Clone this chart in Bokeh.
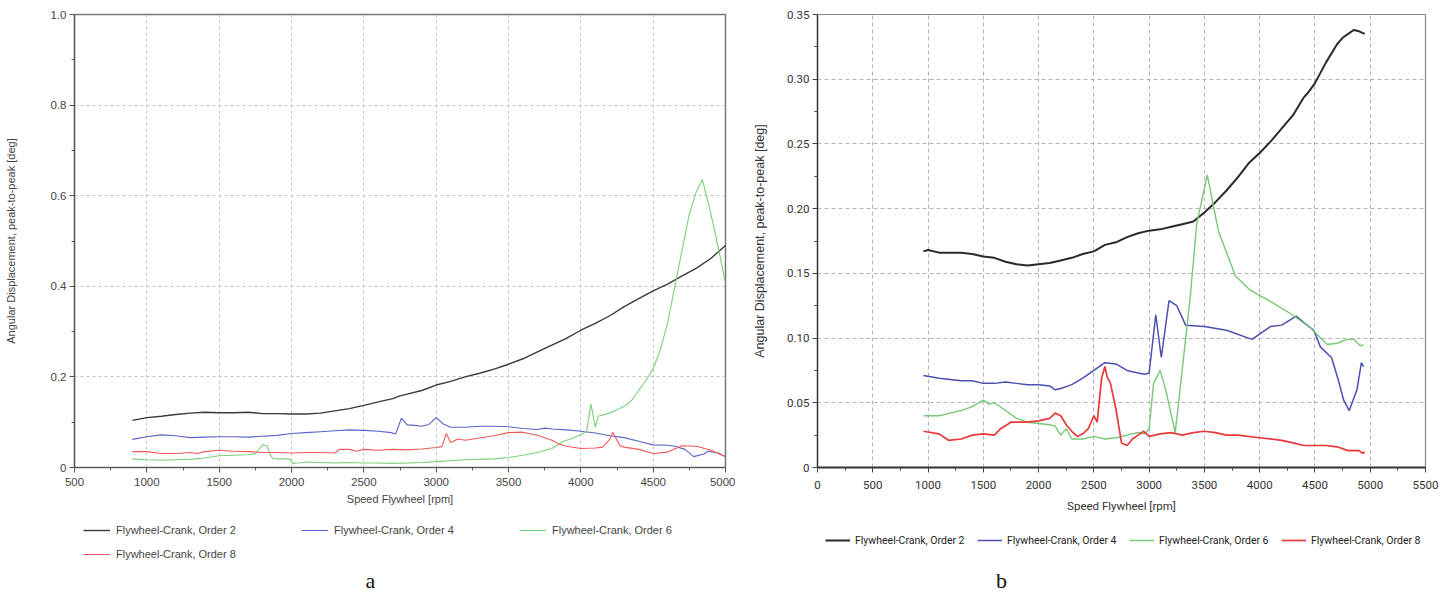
from bokeh.plotting import figure
from bokeh.layouts import row, column
from bokeh.models import Range1d, FixedTicker, CustomJSTickFormatter, Legend, LegendItem, Label
from bokeh.embed import file_html
from bokeh.resources import INLINE

# ---------------- data: panel a ----------------
series_names = ["Flywheel-Crank, Order 2", "Flywheel-Crank, Order 4",
                "Flywheel-Crank, Order 6", "Flywheel-Crank, Order 8"]
panel_tags = ["a", "b"]

a_o2_x = [900, 1000, 1100, 1200, 1300, 1400, 1500, 1600, 1700, 1800, 1900, 2000, 2100, 2200, 2300, 2400,
          2500, 2600, 2700, 2750, 2800, 2900, 3000, 3100, 3200, 3300, 3400, 3500, 3600, 3700, 3800, 3900,
          4000, 4100, 4200, 4300, 4400, 4500, 4600, 4700, 4800, 4900, 5000]
a_o2_y = [0.104, 0.110, 0.113, 0.117, 0.120, 0.122, 0.121, 0.121, 0.122, 0.119, 0.119, 0.118, 0.118, 0.120,
          0.125, 0.130, 0.137, 0.145, 0.152, 0.158, 0.162, 0.170, 0.182, 0.190, 0.200, 0.208, 0.217, 0.228,
          0.240, 0.255, 0.270, 0.285, 0.303, 0.318, 0.335, 0.355, 0.373, 0.390, 0.405, 0.423, 0.440, 0.462, 0.490]

a_o4_x = [900, 1000, 1100, 1200, 1300, 1400, 1500, 1600, 1700, 1800, 1900, 2000, 2100, 2200, 2300, 2400,
          2500, 2600, 2690, 2720, 2760, 2800, 2850, 2900, 2950, 3000, 3050, 3100, 3200, 3300, 3400, 3500,
          3600, 3700, 3750, 3800, 3900, 4000, 4100, 4200, 4300, 4400, 4500, 4600, 4650, 4720, 4780, 4850,
          4880, 4950, 5000]
a_o4_y = [0.062, 0.068, 0.072, 0.070, 0.066, 0.067, 0.068, 0.068, 0.067, 0.069, 0.071, 0.075, 0.077, 0.079,
          0.081, 0.083, 0.082, 0.080, 0.077, 0.074, 0.109, 0.094, 0.093, 0.091, 0.095, 0.110, 0.096, 0.089,
          0.089, 0.091, 0.091, 0.090, 0.086, 0.084, 0.087, 0.085, 0.083, 0.080, 0.076, 0.070, 0.066, 0.058,
          0.050, 0.049, 0.047, 0.040, 0.024, 0.030, 0.036, 0.032, 0.024]

a_o6_x = [900, 1000, 1100, 1200, 1300, 1400, 1500, 1600, 1700, 1750, 1780, 1800, 1830, 1850, 1870, 1900,
          1950, 1990, 2010, 2050, 2100, 2200, 2300, 2400, 2500, 2600, 2700, 2800, 2900, 3000, 3100, 3200,
          3300, 3400, 3500, 3600, 3700, 3800, 3880, 3950, 4000, 4040, 4070, 4100, 4120, 4200, 4300, 4350,
          4400, 4450, 4500, 4550, 4600, 4650, 4700, 4750, 4800, 4840, 4880, 4920, 4960, 5000]
a_o6_y = [0.019, 0.017, 0.016, 0.017, 0.018, 0.021, 0.026, 0.027, 0.028, 0.030, 0.042, 0.050, 0.048, 0.030,
          0.020, 0.019, 0.019, 0.018, 0.009, 0.010, 0.012, 0.011, 0.010, 0.011, 0.010, 0.010, 0.009, 0.010,
          0.011, 0.013, 0.015, 0.017, 0.018, 0.019, 0.022, 0.027, 0.033, 0.042, 0.058, 0.065, 0.073, 0.080,
          0.140, 0.089, 0.113, 0.120, 0.135, 0.148, 0.170, 0.192, 0.218, 0.260, 0.320, 0.400, 0.480, 0.560,
          0.610, 0.636, 0.585, 0.530, 0.470, 0.407]

a_o8_x = [900, 1000, 1100, 1200, 1300, 1350, 1400, 1500, 1600, 1700, 1800, 1900, 2000, 2100, 2200, 2300,
          2330, 2400, 2450, 2500, 2600, 2700, 2800, 2900, 3000, 3040, 3070, 3100, 3150, 3200, 3300, 3400,
          3500, 3600, 3700, 3800, 3850, 3900, 4000, 4100, 4150, 4200, 4220, 4250, 4270, 4300, 4400, 4500,
          4600, 4700, 4800, 4900, 5000]
a_o8_y = [0.035, 0.035, 0.031, 0.031, 0.033, 0.031, 0.035, 0.038, 0.036, 0.035, 0.033, 0.033, 0.032, 0.033,
          0.033, 0.032, 0.040, 0.040, 0.036, 0.040, 0.038, 0.040, 0.039, 0.041, 0.044, 0.046, 0.075, 0.055,
          0.063, 0.060, 0.065, 0.070, 0.077, 0.078, 0.071, 0.060, 0.052, 0.047, 0.042, 0.043, 0.045, 0.062,
          0.078, 0.060, 0.048, 0.045, 0.040, 0.031, 0.034, 0.048, 0.047, 0.038, 0.024]

a_xticks = [500, 1000, 1500, 2000, 2500, 3000, 3500, 4000, 4500, 5000]
a_xminor = [750, 1250, 1750, 2250, 2750, 3250, 3750, 4250, 4750]
a_yticks = [0, 0.2, 0.4, 0.6, 0.8, 1.0]
a_yminor = [0.1, 0.3, 0.5, 0.7, 0.9]

# ---------------- data: panel b ----------------
b_o2_x = [958, 1000, 1100, 1200, 1300, 1400, 1500, 1600, 1700, 1800, 1900, 2000, 2100, 2200, 2300, 2400,
          2500, 2600, 2700, 2800, 2900, 3000, 3100, 3200, 3300, 3400, 3500, 3600, 3700, 3800, 3900, 4000,
          4100, 4200, 4300, 4400, 4450, 4500, 4600, 4700, 4750, 4800, 4850, 4900, 4950]
b_o2_y = [0.167, 0.168, 0.166, 0.166, 0.166, 0.165, 0.163, 0.162, 0.159, 0.157, 0.156, 0.157, 0.158, 0.160,
          0.162, 0.165, 0.167, 0.172, 0.174, 0.178, 0.181, 0.183, 0.184, 0.186, 0.188, 0.190, 0.197, 0.205,
          0.214, 0.224, 0.235, 0.243, 0.252, 0.262, 0.272, 0.286, 0.291, 0.297, 0.313, 0.327, 0.332, 0.335,
          0.338, 0.337, 0.335]

b_o4_x = [958, 1100, 1200, 1300, 1400, 1500, 1600, 1700, 1800, 1900, 2000, 2100, 2150, 2200, 2300, 2400,
          2500, 2600, 2700, 2800, 2900, 2960, 3000, 3060, 3110, 3180, 3250, 3330, 3500, 3700, 3930, 4100,
          4200, 4330, 4400, 4490, 4550, 4650, 4710, 4760, 4810, 4880, 4920, 4940]
b_o4_y = [0.071, 0.069, 0.068, 0.067, 0.067, 0.065, 0.065, 0.066, 0.065, 0.064, 0.064, 0.063, 0.060, 0.061,
          0.064, 0.069, 0.075, 0.081, 0.080, 0.075, 0.073, 0.072, 0.073, 0.118, 0.085, 0.129, 0.125, 0.110,
          0.109, 0.106, 0.099, 0.109, 0.110, 0.117, 0.112, 0.106, 0.093, 0.085, 0.068, 0.052, 0.044, 0.060,
          0.081, 0.078]

b_o6_x = [958, 1100, 1200, 1300, 1400, 1500, 1550, 1600, 1700, 1800, 1900, 2000, 2100, 2150, 2200, 2250,
          2300, 2400, 2500, 2600, 2700, 2800, 2900, 2960, 3000, 3040, 3100, 3150, 3236, 3300, 3372, 3430,
          3526, 3626, 3780, 3915, 4123, 4277, 4458, 4611, 4700, 4792, 4850, 4910, 4940]
b_o6_y = [0.040, 0.040, 0.042, 0.044, 0.047, 0.052, 0.049, 0.050, 0.044, 0.038, 0.035, 0.034, 0.033, 0.032,
          0.025, 0.030, 0.022, 0.022, 0.024, 0.022, 0.023, 0.025, 0.027, 0.026, 0.030, 0.065, 0.075, 0.060,
          0.027, 0.076, 0.132, 0.188, 0.226, 0.183, 0.148, 0.137, 0.127, 0.119, 0.108, 0.095, 0.096, 0.099,
          0.099, 0.094, 0.095]

b_o8_x = [958, 1100, 1185, 1300, 1400, 1500, 1600, 1656, 1750, 1900, 2000, 2100, 2150, 2200, 2250, 2300,
          2350, 2400, 2450, 2500, 2530, 2570, 2600, 2620, 2650, 2700, 2750, 2800, 2850, 2900, 2950, 3000,
          3100, 3200, 3300, 3400, 3500, 3600, 3700, 3800, 4000, 4200, 4300, 4400, 4600, 4700, 4800, 4900,
          4930, 4950]
b_o8_y = [0.028, 0.026, 0.021, 0.022, 0.025, 0.026, 0.025, 0.030, 0.035, 0.035, 0.036, 0.038, 0.042, 0.040,
          0.033, 0.028, 0.024, 0.026, 0.030, 0.040, 0.035, 0.069, 0.078, 0.070, 0.065, 0.045, 0.019, 0.017,
          0.022, 0.025, 0.028, 0.024, 0.026, 0.027, 0.025, 0.027, 0.028, 0.027, 0.025, 0.025, 0.023, 0.021,
          0.019, 0.017, 0.017, 0.016, 0.013, 0.013, 0.011, 0.012]

b_xticks = [0, 500, 1000, 1500, 2000, 2500, 3000, 3500, 4000, 4500, 5000, 5500]
b_xminor = [250, 750, 1250, 1750, 2250, 2750, 3250, 3750, 4250, 4750, 5250]
b_yticks = [0, 0.05, 0.10, 0.15, 0.20, 0.25, 0.30, 0.35]
b_yminor = [0.025, 0.075, 0.125, 0.175, 0.225, 0.275, 0.325]

y_title = "Angular Displacement, peak-to-peak [deg]"
x_title = "Speed Flywheel [rpm]"

SANS = "Liberation Sans"
NARROW = "Roboto"
a_colors = ["#3a3a3a", "#5a64c8", "#7ccf7c", "#ef5a5a"]
a_widths = [1.4, 1.1, 1.1, 1.1]
b_colors = ["#2a2a2a", "#4b4fb0", "#78c878", "#e8393a"]
b_widths = [2.0, 1.5, 1.4, 1.7]

TOP_H = 518

# ---------------- panel a ----------------
pa = figure(width=735, height=TOP_H, output_backend="svg", toolbar_location=None,
            x_range=Range1d(500, 5000), y_range=Range1d(0, 1.0),
            min_border_left=74, min_border_right=10, min_border_top=14, min_border_bottom=51)
pa.background_fill_color = "white"
pa.border_fill_color = "white"
pa.outline_line_color = "#777777"
pa.outline_line_width = 1.5

a_data = [(a_o2_x, a_o2_y), (a_o4_x, a_o4_y), (a_o6_x, a_o6_y), (a_o8_x, a_o8_y)]
for (xs, ys), c, w in zip(a_data, a_colors, a_widths):
    pa.line(xs, ys, line_color=c, line_width=w)

pa.xaxis.ticker = FixedTicker(ticks=a_xticks, minor_ticks=a_xminor)
pa.yaxis.ticker = FixedTicker(ticks=a_yticks, minor_ticks=a_yminor)
pa.yaxis.formatter = CustomJSTickFormatter(code="return tick == 0 ? '0' : tick.toFixed(1);")
pa.xaxis.formatter = CustomJSTickFormatter(code="return tick.toFixed(0);")
for ax in (pa.xaxis[0], pa.yaxis[0]):
    ax.axis_line_color = "#555555"
    ax.axis_line_width = 1.2
    ax.major_tick_line_color = "#555555"
    ax.minor_tick_line_color = "#555555"
    ax.major_tick_out = 5
    ax.major_tick_in = 0
    ax.minor_tick_out = 3
    ax.minor_tick_in = 0
    ax.major_label_text_font = SANS
    ax.major_label_text_font_size = "11.5px"
    ax.major_label_text_color = "#444444"
    ax.axis_label_text_font = SANS
    ax.axis_label_text_font_size = "11px"
    ax.axis_label_text_font_style = "normal"
    ax.axis_label_text_color = "#444444"
pa.xaxis.axis_label = x_title
pa.yaxis.axis_label = y_title
pa.xaxis.major_label_standoff = 5
pa.xaxis.axis_label_standoff = 4
pa.yaxis.major_label_standoff = 3
pa.yaxis.axis_label_standoff = 31

pa.xgrid.ticker = FixedTicker(ticks=a_xticks)
pa.ygrid.ticker = FixedTicker(ticks=a_yticks)
for g in (pa.xgrid[0], pa.ygrid[0]):
    g.grid_line_color = "#c4c4c4"
    g.grid_line_dash = "3 3"
    g.grid_line_width = 1

# ---------------- panel b ----------------
pb = figure(width=711, height=TOP_H, output_backend="svg", toolbar_location=None,
            x_range=Range1d(0, 5500), y_range=Range1d(0, 0.35),
            min_border_left=82, min_border_right=21, min_border_top=14, min_border_bottom=51)
pb.background_fill_color = "white"
pb.border_fill_color = "white"
pb.outline_line_color = "#888888"
pb.outline_line_width = 1.2

b_data = [(b_o2_x, b_o2_y), (b_o4_x, b_o4_y), (b_o6_x, b_o6_y), (b_o8_x, b_o8_y)]
for (xs, ys), c, w in zip(b_data, b_colors, b_widths):
    pb.line(xs, ys, line_color=c, line_width=w)

pb.xaxis.ticker = FixedTicker(ticks=b_xticks, minor_ticks=b_xminor)
pb.yaxis.ticker = FixedTicker(ticks=b_yticks, minor_ticks=b_yminor)
pb.yaxis.formatter = CustomJSTickFormatter(code="return tick == 0 ? '0' : tick.toFixed(2);")
pb.xaxis.formatter = CustomJSTickFormatter(code="return tick.toFixed(0);")
for ax in (pb.xaxis[0], pb.yaxis[0]):
    ax.axis_line_color = "#333333"
    ax.major_tick_line_color = "#444444"
    ax.minor_tick_line_color = "#444444"
    ax.major_tick_out = 5
    ax.major_tick_in = 0
    ax.minor_tick_out = 3
    ax.minor_tick_in = 0
    ax.major_label_text_font = NARROW
    ax.major_label_text_font_size = "11.5px"
    ax.major_label_text_color = "#333333"
    ax.axis_label_text_font_style = "normal"
    ax.axis_label_text_color = "#333333"
pb.xaxis.axis_line_width = 2.2
pb.yaxis.axis_line_width = 1.4
pb.xaxis.axis_label = x_title
pb.yaxis.axis_label = y_title
pb.xaxis.axis_label_text_font = NARROW
pb.xaxis.axis_label_text_font_size = "11.5px"
pb.yaxis.axis_label_text_font = SANS
pb.yaxis.axis_label_text_font_size = "12.5px"
pb.xaxis.major_label_standoff = 8
pb.xaxis.axis_label_standoff = 7
pb.yaxis.major_label_standoff = 3
pb.yaxis.axis_label_standoff = 17

pb.xgrid.ticker = FixedTicker(ticks=b_xticks)
pb.ygrid.ticker = FixedTicker(ticks=b_yticks)
for g in (pb.xgrid[0], pb.ygrid[0]):
    g.grid_line_color = "#b4b4b4"
    g.grid_line_dash = "4 3"
    g.grid_line_width = 1

# ---------------- bottom strip: legends and panel tags ----------------
BOT_H = 592 - TOP_H
bot = figure(width=1446, height=BOT_H, output_backend="svg", toolbar_location=None,
             x_range=Range1d(0, 1446), y_range=Range1d(0, BOT_H),
             x_axis_type=None, y_axis_type=None,
             min_border_left=0, min_border_right=0, min_border_top=0, min_border_bottom=0)
bot.outline_line_color = None
bot.xgrid.visible = False
bot.ygrid.visible = False
bot.background_fill_color = "white"
bot.border_fill_color = "white"

nan = float("nan")
a_leg_r = [bot.line(x=[nan], y=[nan], line_color=c, line_width=w) for c, w in zip(a_colors, a_widths)]
b_leg_r = [bot.line(x=[nan], y=[nan], line_color=c, line_width=w) for c, w in zip(b_colors, b_widths)]

leg_a = Legend(items=[LegendItem(label=n, renderers=[r]) for n, r in zip(series_names, a_leg_r)],
               orientation="horizontal", ncols=3, location=(83, BOT_H - 48),
               glyph_width=27, glyph_height=24, label_height=24, label_width=185, label_standoff=6,
               spacing=0, padding=0, margin=0,
               label_text_font=SANS, label_text_font_size="11px", label_text_color="#444444",
               border_line_alpha=0, background_fill_alpha=0)
bot.add_layout(leg_a)

leg_b = Legend(items=[LegendItem(label=n, renderers=[r]) for n, r in zip(series_names, b_leg_r)],
               orientation="horizontal", location=(825, BOT_H - 32),
               glyph_width=25, glyph_height=20, label_height=20, label_width=122, label_standoff=5,
               spacing=0, padding=0, margin=0,
               label_text_font=NARROW, label_text_font_size="10.5px", label_text_color="#222222",
               border_line_alpha=0, background_fill_alpha=0)
bot.add_layout(leg_b)

for tag, tx in zip(panel_tags, [370, 1001]):
    bot.add_layout(Label(x=tx, y=12, x_units="screen", y_units="screen", text=tag,
                         text_font="Liberation Serif", text_font_size="22px", text_align="center",
                         text_baseline="middle", text_color="#111111"))

layout = column(row(pa, pb, spacing=0), bot, spacing=0)
open("out.html", "w").write(file_html(layout, INLINE))
